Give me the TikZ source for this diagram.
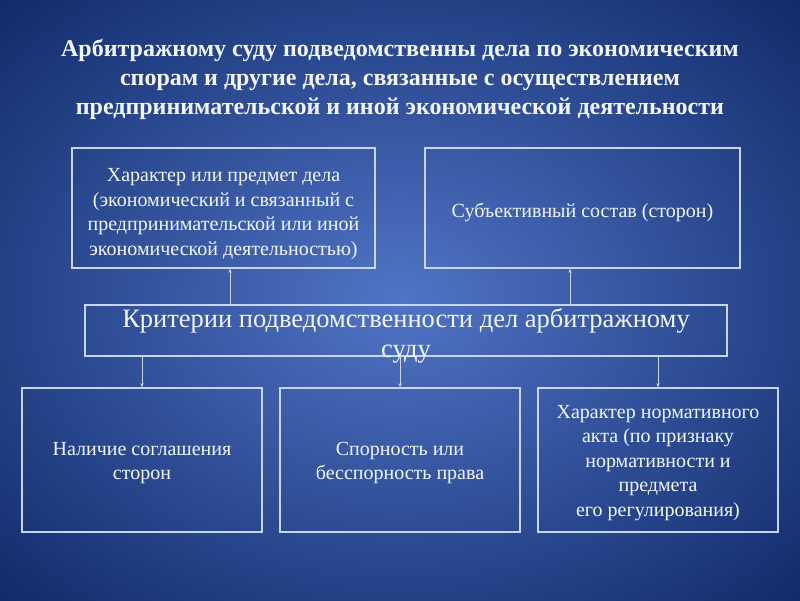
\documentclass[tikz,border=0pt]{standalone}
\usepackage{fontspec}
\setmainfont{Liberation Serif}
\usetikzlibrary{arrows.meta,calc}
\definecolor{bginner}{RGB}{80,116,198}
\definecolor{bgouter}{RGB}{14,40,102}
\definecolor{linec}{RGB}{200,212,240}
\definecolor{txtc}{RGB}{242,245,252}
\pgfdeclareradialshading{bgshade}{\pgfpoint{0bp}{0bp}}{color(0bp)=(bginner); color(37bp)=(bgouter); color(50bp)=(bgouter)}
\tikzset{
  box/.style={draw=linec, line width=1.4pt, inner sep=0pt},
  lbl/.style={text=txtc, align=center, inner sep=0pt, font=\fontsize{20}{24.5}\selectfont},
  arr/.style={draw=linec, line width=0.9pt, -{Stealth[length=4pt,width=3.5pt]}},
}
\begin{document}
\begin{tikzpicture}[x=1pt,y=-1pt]
\useasboundingbox (0,0) rectangle (800,600);
\shade[shading=bgshade] (0,0) rectangle (800,600);
\node[text=txtc, align=center, font=\bfseries\fontsize{24}{29}\selectfont] (title) at (400,79)
  {Арбитражному суду подведомственны дела по экономическим\\спорам и другие дела, связанные с осуществлением\\предпринимательской и иной экономической деятельности};
\node[box, minimum width=303pt, minimum height=120pt] (tl) at (223.5,208) {};
\node[lbl] (tlt) at ([yshift=-6pt]tl.center)
  {Характер или предмет дела\\(экономический и связанный с\\предпринимательской или иной\\экономической деятельностью)};
\node[box, minimum width=315pt, minimum height=120pt] (tr) at (582.5,208) {};
\node[lbl] (trt) at ([yshift=-4pt]tr.center) {Субъективный состав (сторон)};
\node[box, minimum width=642pt, minimum height=51pt] (mid) at (406,330.5) {};
\node[text=txtc, align=center, font=\fontsize{26.5}{30}\selectfont] (midt) at ([yshift=-5pt]mid.center)
  {Критерии подведомственности дел арбитражному\\суду};
\node[box, minimum width=240pt, minimum height=144pt] (bl) at (142,460) {};
\node[lbl] (blt) at ([yshift=-3pt]bl.center) {Наличие соглашения\\сторон};
\node[box, minimum width=240pt, minimum height=144pt] (bm) at (400,460) {};
\node[lbl] (bmt) at ([yshift=-3pt]bm.center) {Спорность или\\бесспорность права};
\node[box, minimum width=240pt, minimum height=144pt] (br) at (658,460) {};
\node[lbl] (brt) at ([yshift=-3pt]br.center)
  {Характер нормативного\\акта (по признаку\\нормативности и\\предмета\\его регулирования)};
\coordinate (a1) at (230,0);
\coordinate (a2) at (570,0);
\draw[arr] (mid.north -| a1) -- (tl.south -| a1);
\draw[arr] (mid.north -| a2) -- (tr.south -| a2);
\draw[arr] (mid.south -| bl.north) -- (bl.north);
\draw[arr] (mid.south -| bm.north) -- (bm.north);
\draw[arr] (mid.south -| br.north) -- (br.north);
\end{tikzpicture}
\end{document}
